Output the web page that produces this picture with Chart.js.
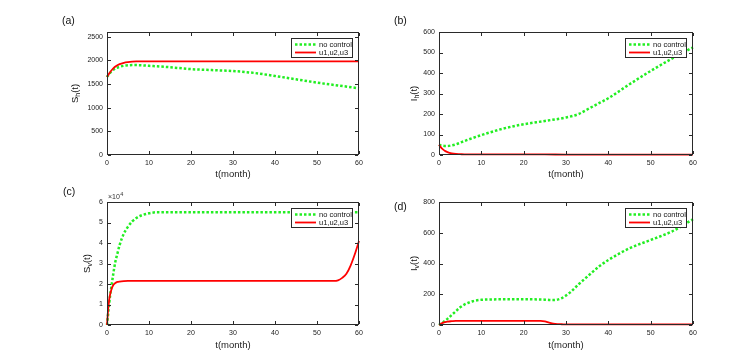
<!DOCTYPE html>
<html>
<head>
<meta charset="utf-8">
<script src="https://cdn.jsdelivr.net/npm/chart.js@4.4.1/dist/chart.umd.min.js"></script>
<style>
  body { margin: 0; background: #fff; width: 754px; height: 359px; overflow: hidden; position: relative; }
  canvas { position: absolute; }
</style>
</head>
<body>
<canvas id="ca" width="377" height="185" style="left:0;top:0"></canvas>
<canvas id="cb" width="377" height="185" style="left:377px;top:0"></canvas>
<canvas id="cc" width="377" height="179" style="left:0;top:180px"></canvas>
<canvas id="cd" width="377" height="179" style="left:377px;top:180px"></canvas>
<script>
// (a) S_h(t)
const tA = [0, 0.5, 1, 1.5, 2, 3, 4, 5, 6, 7, 8, 10, 12, 15, 20, 25, 30, 35, 40, 45, 50, 55, 60];
const shNoControl = [1650, 1710, 1760, 1800, 1830, 1865, 1885, 1895, 1900, 1900, 1898, 1885, 1875, 1855, 1815, 1795, 1775, 1735, 1670, 1600, 1530, 1470, 1410];
const shControl = [1650, 1720, 1780, 1830, 1870, 1920, 1948, 1963, 1972, 1977, 1979, 1980, 1980, 1980, 1980, 1980, 1980, 1980, 1980, 1980, 1980, 1980, 1980];

// (b) I_h(t)
const tB = [0, 0.5, 1, 1.5, 2, 3, 4, 5, 6, 8, 10, 12, 15, 18, 20, 25, 30, 33, 35, 38, 40, 45, 50, 55, 60];
const ihNoControl = [50, 47, 45, 44, 44, 47, 52, 60, 68, 83, 97, 110, 128, 142, 150, 166, 183, 200, 222, 255, 277, 345, 410, 470, 525];
const ihControl = [50, 36, 26, 19, 14, 8, 5, 4, 3, 3, 3, 3, 3, 3, 3, 3, 2, 2, 2, 2, 2, 2, 2, 2, 2];

// (c) S_v(t)
const tC = [0, 0.25, 0.5, 0.75, 1, 1.5, 2, 2.5, 3, 4, 5, 6, 7, 8, 10, 12, 15, 20, 30, 40, 50, 54, 55, 56, 57, 58, 59, 60];
const svNoControl = [0, 5000, 10000, 14500, 18000, 25000, 31000, 35000, 39000, 44500, 48000, 50500, 52200, 53300, 54500, 55000, 55000, 55000, 55000, 55000, 55000, 55000, 55000, 55000, 55000, 55000, 55000, 55000];
const svControl = [0, 7000, 12000, 15000, 17000, 19500, 20500, 21000, 21200, 21400, 21500, 21500, 21500, 21500, 21500, 21500, 21500, 21500, 21500, 21500, 21500, 21500, 21800, 23000, 25000, 29000, 34500, 41000];

// (d) I_v(t)
const tD = [0, 1, 2, 3, 4, 5, 6, 7, 8, 10, 12, 15, 20, 24, 25, 26, 27, 28, 29, 30, 31, 33, 35, 38, 40, 45, 50, 55, 60];
const ivNoControl = [0, 18, 40, 65, 90, 115, 133, 145, 155, 164, 166, 167, 167, 166, 165, 163, 162, 165, 175, 192, 212, 265, 314, 385, 423, 499, 553, 608, 688];
const ivControl = [0, 15, 22, 25, 27, 27, 27, 27, 27, 27, 27, 27, 27, 27, 24, 16, 9, 6, 5, 4, 4, 4, 4, 4, 4, 4, 4, 4, 4];

// tick labels
const xTicks = [0, 10, 20, 30, 40, 50, 60];
const yTicksA = [0, 500, 1000, 1500, 2000, 2500];
const yTicksB = [0, 100, 200, 300, 400, 500, 600];
const yTicksC = [0, 10000, 20000, 30000, 40000, 50000, 60000];
const yTicksD = [0, 200, 400, 600, 800];
const legendLabels = ['no control', 'u1,u2,u3'];

const FONT = 'Liberation Sans, Arial, sans-serif';
const AXIS = '#2a2a2a';

function pts(t, v) {
  return t.map((x, i) => ({ x: x, y: v[i] }));
}

const decor = {
  id: 'decor',
  afterDraw(chart, args, o) {
    const { ctx, chartArea: a } = chart;
    const xs = chart.scales.x, ys = chart.scales.y;
    ctx.save();
    ctx.setLineDash([]);
    ctx.globalAlpha = 1;
    ctx.globalCompositeOperation = 'source-over';

    // axes box with inward ticks, drawn as filled 1px bars
    const L = Math.round(a.left), R = Math.round(a.right) - 1;
    const T = Math.round(a.top), B = Math.round(a.bottom) - 1;
    ctx.fillStyle = AXIS;
    ctx.fillRect(L, T, R - L + 1, 1);
    ctx.fillRect(L, B, R - L + 1, 1);
    ctx.fillRect(L, T, 1, B - T + 1);
    ctx.fillRect(R, T, 1, B - T + 1);
    xs.ticks.forEach(tk => {
      const px = Math.round(xs.getPixelForValue(tk.value));
      ctx.fillRect(px, B - 3, 1, 3);
      ctx.fillRect(px, T + 1, 1, 3);
    });
    ys.ticks.forEach(tk => {
      const py = Math.round(ys.getPixelForValue(tk.value));
      ctx.fillRect(L + 1, py, 3, 1);
      ctx.fillRect(R - 3, py, 3, 1);
    });

    // legend
    const lw = 62, lh = 20;
    const lx = Math.round(a.right - 6 - lw), ly = Math.round(a.top + 6);
    ctx.fillStyle = '#fff';
    ctx.fillRect(lx, ly, lw, lh);
    ctx.fillStyle = AXIS;
    ctx.fillRect(lx, ly, lw, 1);
    ctx.fillRect(lx, ly + lh - 1, lw, 1);
    ctx.fillRect(lx, ly, 1, lh);
    ctx.fillRect(lx + lw - 1, ly, 1, lh);
    ctx.font = '7.5px ' + FONT;
    ctx.textBaseline = 'middle';
    ctx.textAlign = 'left';
    chart.data.datasets.forEach((ds, i) => {
      const ry = ly + 6.5 + i * 8;
      ctx.beginPath();
      ctx.strokeStyle = ds.borderColor;
      ctx.lineWidth = ds.borderWidth;
      ctx.setLineDash(ds.borderDash || []);
      ctx.moveTo(lx + 4, ry);
      ctx.lineTo(lx + 25, ry);
      ctx.stroke();
      ctx.setLineDash([]);
      ctx.fillStyle = '#111';
      ctx.fillText(ds.label, lx + 28, ry + 0.5);
    });

    // y label with subscript
    const main = '9.5px ' + FONT, sub = '7px ' + FONT;
    ctx.font = main; const w1 = ctx.measureText(o.ylab[0]).width;
    ctx.font = sub; const w2 = ctx.measureText(o.ylab[1]).width;
    ctx.font = main; const w3 = ctx.measureText(o.ylab[2]).width;
    const total = w1 + w2 + w3;
    ctx.translate(a.left + o.ylabDX, (a.top + a.bottom) / 2);
    ctx.rotate(-Math.PI / 2);
    ctx.fillStyle = '#111';
    ctx.textBaseline = 'middle';
    let cx = -total / 2;
    ctx.font = main; ctx.fillText(o.ylab[0], cx, 0); cx += w1;
    ctx.font = sub; ctx.fillText(o.ylab[1], cx, 3); cx += w2;
    ctx.font = main; ctx.fillText(o.ylab[2], cx, 0);
    ctx.setTransform(1, 0, 0, 1, 0, 0);

    // panel tag
    ctx.font = '10.5px ' + FONT;
    ctx.textBaseline = 'middle';
    ctx.fillText(o.tag, a.left + o.tagDX, a.top + o.tagDY);

    // exponent
    if (o.exp) {
      ctx.font = '7px ' + FONT;
      ctx.textBaseline = 'alphabetic';
      ctx.fillStyle = '#333';
      ctx.fillText('\u00d710', a.left + 1, a.top - 3);
      const ew = ctx.measureText('\u00d710').width;
      ctx.font = '5.5px ' + FONT;
      ctx.fillText(o.exp, a.left + 1 + ew + 0.5, a.top - 6);
    }
    ctx.restore();
  }
};

function makePanel(id, p) {
  return new Chart(document.getElementById(id), {
    type: 'line',
    data: {
      datasets: [{
        label: legendLabels[0],
        data: pts(p.t, p.no),
        borderColor: '#22ee22',
        borderWidth: 2.5,
        borderDash: [2.5, 2],
        borderCapStyle: 'butt',
        pointRadius: 0,
        cubicInterpolationMode: 'monotone',
        clip: false,
        order: 1
      }, {
        label: legendLabels[1],
        data: pts(p.t, p.ctl),
        borderColor: '#ff0000',
        borderWidth: 1.8,
        pointRadius: 0,
        cubicInterpolationMode: 'monotone',
        clip: false,
        order: 0
      }]
    },
    options: {
      responsive: false,
      animation: false,
      devicePixelRatio: 1,
      layout: { padding: p.pad },
      plugins: {
        legend: { display: false },
        tooltip: { enabled: false },
        decor: p.decor
      },
      scales: {
        x: {
          type: 'linear',
          min: 0,
          max: 60,
          grid: { display: false, drawTicks: false, tickLength: 0 },
          border: { display: false },
          afterBuildTicks: s => { s.ticks = xTicks.map(v => ({ value: v })); },
          ticks: { autoSkip: false, maxRotation: 0, padding: 4, color: '#222', font: { family: FONT, size: 7 } },
          title: { display: true, text: 't(month)', color: '#222', font: { family: FONT, size: 9.5 }, padding: { top: 0, bottom: p.titlePad } },
          afterFit: s => { s.height = p.xH; }
        },
        y: {
          type: 'linear',
          min: 0,
          max: p.ymax,
          grid: { display: false, drawTicks: false, tickLength: 0 },
          border: { display: false },
          afterBuildTicks: s => { s.ticks = p.yTicks.map(v => ({ value: v })); },
          ticks: { autoSkip: false, padding: 4, color: '#222', font: { family: FONT, size: 7 }, callback: p.fmt || (v => v) },
          afterFit: s => { s.width = p.yW; }
        }
      }
    },
    plugins: [decor]
  });
}

makePanel('ca', {
  t: tA, no: shNoControl, ctl: shControl, ymax: 2600, yTicks: yTicksA,
  pad: { top: 32, right: 18, left: 0, bottom: 0 }, yW: 107, xH: 30, titlePad: 5,
  decor: { ylab: ['S', 'h', '(t)'], ylabDX: -32, tag: '(a)', tagDX: -45, tagDY: -11 }
});
makePanel('cb', {
  t: tB, no: ihNoControl, ctl: ihControl, ymax: 600, yTicks: yTicksB,
  pad: { top: 32, right: 61, left: 0, bottom: 0 }, yW: 62, xH: 30, titlePad: 5,
  decor: { ylab: ['I', 'h', '(t)'], ylabDX: -25, tag: '(b)', tagDX: -45, tagDY: -11 }
});
makePanel('cc', {
  t: tC, no: svNoControl, ctl: svControl, ymax: 60000, yTicks: yTicksC, fmt: v => v / 10000,
  pad: { top: 22, right: 18, left: 0, bottom: 0 }, yW: 107, xH: 34, titlePad: 8,
  decor: { ylab: ['S', 'v', '(t)'], ylabDX: -20, tag: '(c)', tagDX: -44, tagDY: -10, exp: '4' }
});
makePanel('cd', {
  t: tD, no: ivNoControl, ctl: ivControl, ymax: 800, yTicks: yTicksD,
  pad: { top: 22, right: 61, left: 0, bottom: 0 }, yW: 62, xH: 34, titlePad: 8,
  decor: { ylab: ['I', 'v', '(t)'], ylabDX: -25, tag: '(d)', tagDX: -45, tagDY: 5 }
});
</script>
</body>
</html>
